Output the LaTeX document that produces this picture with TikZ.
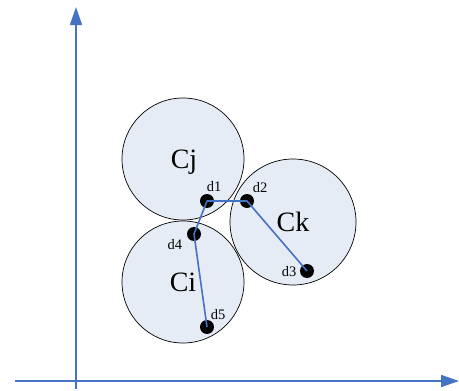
\documentclass[tikz,border=0pt]{standalone}
\usepackage{fontspec}
\setmainfont{Liberation Serif}
\usetikzlibrary{arrows.meta}
\definecolor{axisblue}{RGB}{68,114,196}
\definecolor{cfill}{RGB}{230,236,246}
\tikzset{
  axis/.style={draw=axisblue, line width=1.6pt, -{Triangle[length=18pt,width=12pt]}},
  cluster/.style={circle, draw=black, line width=0.7pt, fill=cfill, inner sep=0pt},
  clabel/.style={font=\fontsize{28}{30}\selectfont},
  pt/.style={circle, fill=black, inner sep=0pt, minimum size=14pt},
  plabel/.style={font=\fontsize{14.5}{16}\selectfont, inner sep=0pt},
  path/.style={draw=axisblue, line width=1.6pt, line join=round}
}
\begin{document}
\begin{tikzpicture}[x=1pt,y=-1pt]
\useasboundingbox (0,0) rectangle (459,391);
\coordinate (yb) at (76,389);
\coordinate (yt) at (76,7);
\coordinate (xb) at (15,381);
\coordinate (xt) at (459,381);
\draw[axis] (yb) -- (yt);
\draw[axis] (xb) -- (xt);
\node[cluster, minimum size=122pt] (Cj) at (183,159) {};
\node[cluster, minimum size=122pt] (Ci) at (183,282) {};
\node[cluster, minimum size=126pt] (Ck) at (293,222) {};
\node[clabel] (Lj) at (184,162) {Cj};
\node[clabel] (Li) at (183,282) {Ci};
\node[clabel] (Lk) at (293,222) {Ck};
\coordinate (p1) at (207,201);
\coordinate (p2) at (247,201);
\coordinate (p3) at (307,271);
\coordinate (p4) at (194,234);
\coordinate (p5) at (207,327);
\node[pt] (d1) at (p1) {};
\node[pt] (d2) at (p2) {};
\node[pt] (d3) at (p3) {};
\node[pt] (d4) at (p4) {};
\node[pt] (d5) at (p5) {};
\draw[path] (d3.center) -- (d2.center) -- (d1.center) -- (d4.center) -- (d5.center);
\node[plabel] (l1) at (214,187) {d1};
\node[plabel] (l2) at (260,188) {d2};
\node[plabel] (l3) at (289,272) {d3};
\node[plabel] (l4) at (175,245) {d4};
\node[plabel] (l5) at (218,315) {d5};
\end{tikzpicture}
\end{document}
